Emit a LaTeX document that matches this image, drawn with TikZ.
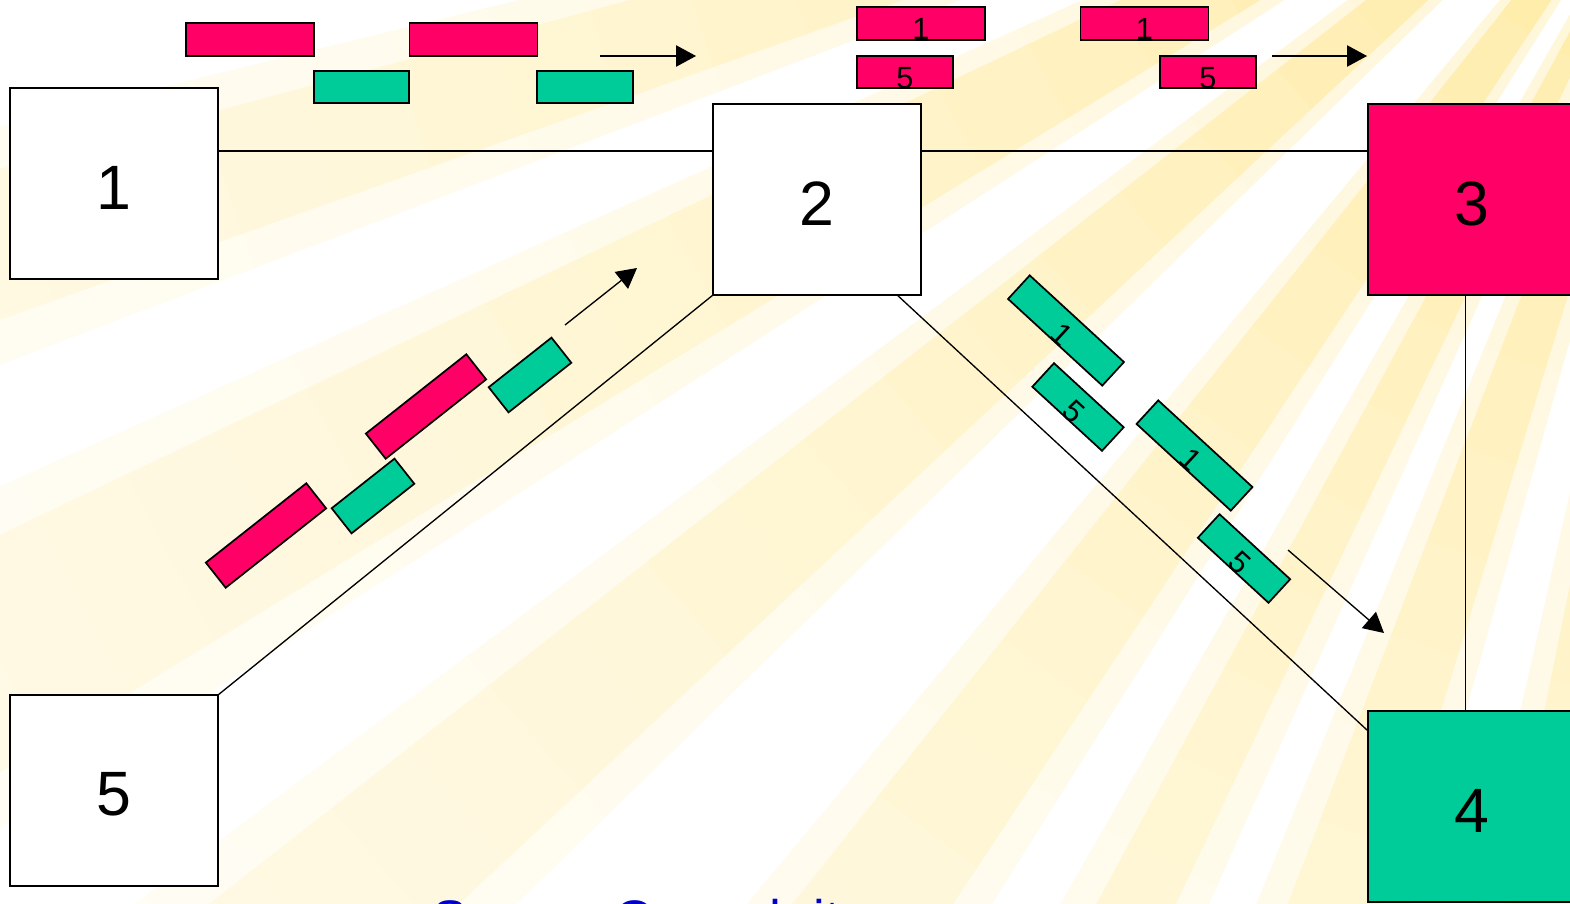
\documentclass[tikz,border=0pt]{standalone}
\usepackage{fontspec}
\setmainfont{Liberation Sans}
\usetikzlibrary{arrows.meta}
\definecolor{mag}{HTML}{FF0066}
\definecolor{grn}{HTML}{00CC99}
\definecolor{txtblue}{HTML}{0000CC}
\definecolor{rayY}{HTML}{FFE070}
\begin{document}
\begin{tikzpicture}[x=0.75pt,y=-0.75pt,
  bigbox/.style={draw, line width=1.5pt, minimum width=156pt, minimum height=143.25pt, inner sep=0pt, outer sep=0pt},
  bigdigit/.style={font=\fontsize{47}{47}\selectfont, inner sep=0pt},
  smalldigit/.style={font=\fontsize{23}{23}\selectfont, inner sep=0pt},
  magrect/.style={draw, line width=1.3pt, fill=mag, inner sep=0pt, outer sep=0pt, minimum height=24.5pt},
  grnrect/.style={draw, line width=1.3pt, fill=grn, inner sep=0pt, outer sep=0pt, minimum height=24pt},
  longrect/.style={minimum width=96pt},
  shortrect/.style={minimum width=71.5pt},
  conn/.style={line width=1pt},
  flow/.style={line width=1pt, -{Triangle[length=15pt,width=16pt]}}
]
\useasboundingbox (0,0) rectangle (1570,903);
\clip (0,0) rectangle (1570,903);
\fill[white] (0,0) rectangle (1570,903);
% background rays, fading away from the light source
\coordinate (C) at (1750,-300);
\foreach \a/\b in {160.5/165, 148.5/154.5, 137/142, 123.5/128.5, 115.5/118.5, 107/111, 98.5/101.5}{
  \foreach \i in {0,...,24}{
    \pgfmathsetmacro\ra{100+100*\i}
    \pgfmathsetmacro\rb{\ra+103}
    \pgfmathsetmacro\kk{0.45*75*exp(-(\ra+50)/1400)}
    \pgfmathsetmacro\aa{\a-1.3}
    \pgfmathsetmacro\bb{\b+1.3}
    \fill[rayY!\kk!white] ([shift={(\aa:\ra)}]C) -- ([shift={(\bb:\ra)}]C) -- ([shift={(\bb:\rb)}]C) -- ([shift={(\aa:\rb)}]C) -- cycle;
  }
}
\foreach \a/\b in {160.5/165, 148.5/154.5, 137/142, 123.5/128.5, 115.5/118.5, 107/111, 98.5/101.5}{
  \foreach \i in {0,...,24}{
    \pgfmathsetmacro\ra{100+100*\i}
    \pgfmathsetmacro\rb{\ra+103}
    \pgfmathsetmacro\kk{75*exp(-(\ra+50)/1400)}
    \fill[rayY!\kk!white] ([shift={(\a:\ra)}]C) -- ([shift={(\b:\ra)}]C) -- ([shift={(\b:\rb)}]C) -- ([shift={(\a:\rb)}]C) -- cycle;
  }
}
% boxes
\node[bigbox, fill=white] (b1) at (114,183.5) {};
\node[bigbox, fill=white] (b2) at (817,199.5) {};
\node[bigbox, fill=mag] (b3) at (1472,199.5) {};
\node[bigbox, fill=grn] (b4) at (1472,806.5) {};
\node[bigbox, fill=white] (b5) at (114,790.5) {};
% connectors
\draw[conn] (b2.155) -- (b2.155 -| b1.east);
\draw[conn] (b2.25) -- (b2.25 -| b3.west);
\draw[conn] (b3.-94.2) -- (b3.-94.2 |- b4.north);
\draw[conn] (b5.north east) -- (b2.south west);
\draw[conn] (b2.-50.4) -- (b4.144.4);
% box labels
\node[bigdigit] (l1) at ([yshift=-3pt]b1.center) {1};
\node[bigdigit] (l2) at ([yshift=-3pt]b2.center) {2};
\node[bigdigit] (l3) at ([yshift=-3pt]b3.center) {3};
\node[bigdigit] (l4) at ([yshift=-3pt]b4.center) {4};
\node[bigdigit] (l5) at ([yshift=-3pt]b5.center) {5};
% top-left packets
\node[magrect, longrect] (t1) at (250,39.5) {};
\node[magrect, longrect] (t2) at (473.5,39.5) {};
\node[grnrect, shortrect] (t3) at (361.5,87) {};
\node[grnrect, shortrect] (t4) at (585,87) {};
\coordinate (a1s) at (600,56);
\coordinate (a1e) at (696,56);
\draw[flow] (a1s) -- (a1e);
% top-right packets
\node[magrect, longrect] (t5) at (921,23.5) {};
\node[magrect, longrect] (t6) at (1144.5,23.5) {};
\node[magrect, shortrect] (t7) at (905,72) {};
\node[magrect, shortrect] (t8) at (1208,72) {};
\node[smalldigit, anchor=base] (d5) at (t5.south) {1};
\node[smalldigit, anchor=base] (d6) at (t6.south) {1};
\node[smalldigit, anchor=base] (d7) at (t7.south) {5};
\node[smalldigit, anchor=base] (d8) at (t8.south) {5};
\coordinate (a2s) at (1272,56);
\coordinate (a2e) at (1367,56);
\draw[flow] (a2s) -- (a2e);
% left diagonal packets
\node[magrect, longrect, minimum height=24pt, rotate=38.3] (m1) at (266,535.5) {};
\node[magrect, longrect, minimum height=24pt, rotate=38.3] (m2) at (426,406.5) {};
\node[grnrect, minimum width=60pt, rotate=38.3] (g1) at (373,496) {};
\node[grnrect, minimum width=60pt, rotate=38.3] (g2) at (530,375) {};
\coordinate (a3s) at (565,325);
\coordinate (a3e) at (637,268);
\draw[flow] (a3s) -- (a3e);
% right diagonal packets
\node[grnrect, longrect, rotate=-42.6] (ga) at (1066,330.5) {};
\node[grnrect, minimum width=71pt, rotate=-42.6] (gb) at (1078,407) {};
\node[grnrect, longrect, rotate=-42.6] (gc) at (1194.5,455.5) {};
\node[grnrect, minimum width=72pt, rotate=-42.6] (gd) at (1244,558.5) {};
\node[smalldigit, rotate=-42.6, anchor=base] (da) at (ga.south) {1};
\node[smalldigit, rotate=-42.6, anchor=base] (db) at (gb.south) {5};
\node[smalldigit, rotate=-42.6, anchor=base] (dc) at (gc.south) {1};
\node[smalldigit, rotate=-42.6, anchor=base] (dd) at (gd.south) {5};
\coordinate (a4s) at (1288,550);
\coordinate (a4e) at (1384,633);
\draw[flow] (a4s) -- (a4e);
% bottom caption (cut off by the picture's lower edge, as in the original)
\node[font=\fontsize{39.6}{40}\selectfont, text=txtblue, anchor=base west, inner sep=0pt] (cap) at (432,937) {Source Quench it};
\end{tikzpicture}
\end{document}
